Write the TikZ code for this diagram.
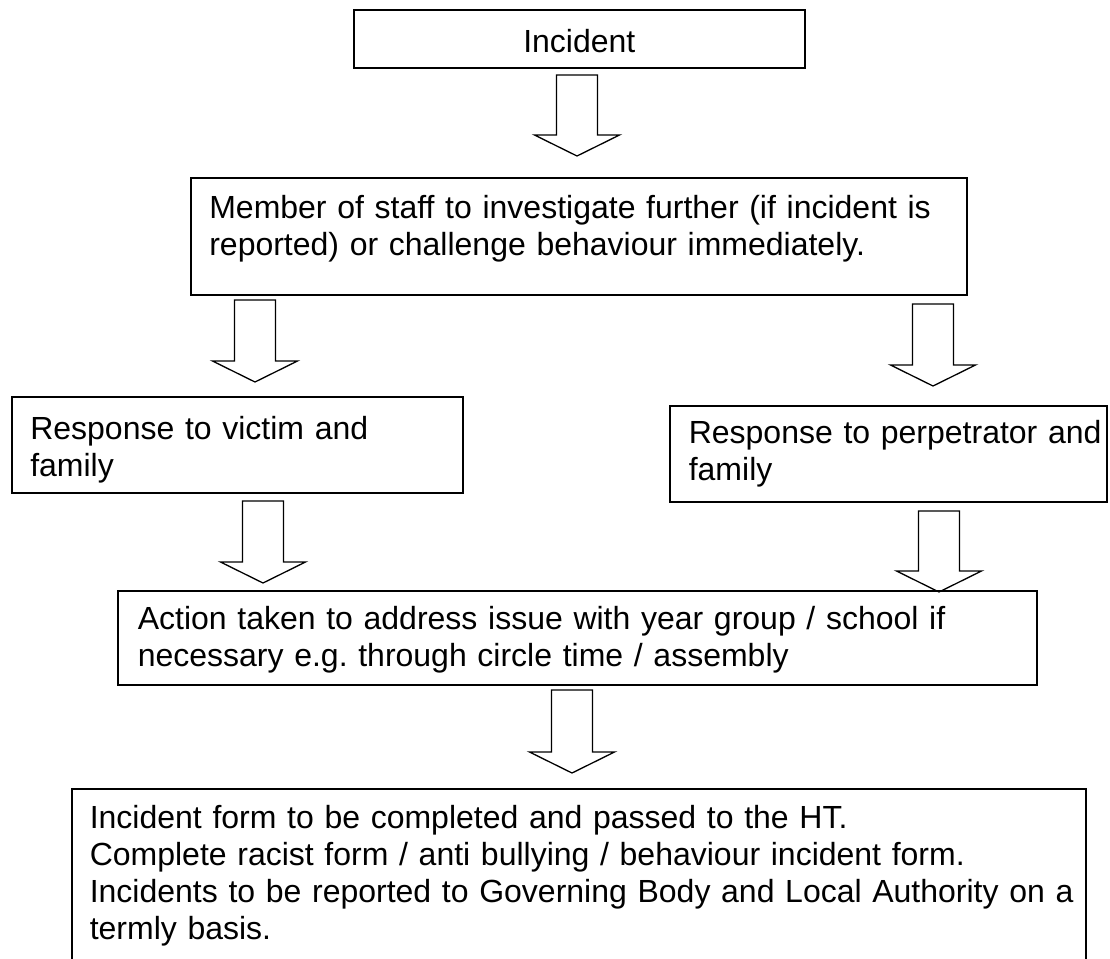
\documentclass[tikz,border=0pt]{standalone}
\usepackage{fontspec}
\setmainfont{Liberation Sans}
\usetikzlibrary{calc}
\newcommand{\bxfont}{\fontsize{32}{37}\selectfont\frenchspacing}

\tikzset{
  box/.style={draw, line width=1.6pt, anchor=north west, inner sep=0pt, align=left, font=\bxfont},
  pad/.style={execute at begin node={\raggedright\leftskip=#1\relax}},
  hollow/.style={draw, line width=1.3pt}
}

\begin{document}
\begin{tikzpicture}[x=1pt,y=-1pt]
  \clip (0,0) rectangle (1110,958);
  \fill[white] (0,0) rectangle (1110,958);

  \node[box, align=center, text width=451pt, text height=43pt, text depth=15pt] (incident) at (353,9) {Incident};
  \node[box, pad=18.5pt, text width=776pt, text height=41pt, text depth=76pt] (staff) at (190,177)
    {Member of staff to investigate further (if incident is\\reported) or challenge behaviour immediately.};
  \node[box, pad=18.5pt, text width=451pt, text height=43pt, text depth=53pt] (victim) at (11,396)
    {Response to victim and\\family};
  \node[box, pad=19pt, text width=437pt, text height=38pt, text depth=58pt] (perp) at (669,405)
    {Response to perpetrator and\\family};
  \node[box, pad=20pt, text width=919pt, text height=39pt, text depth=55pt] (action) at (117,590)
    {Action taken to address issue with year group / school if\\necessary e.g. through circle time / assembly};
  \node[box, pad=18pt, text width=1014pt, text height=40pt, text depth=200pt] (form) at (71,788)
    {Incident form to be completed and passed to the HT.\\
     Complete racist form / anti bullying / behaviour incident form.\\
     Incidents to be reported to Governing Body and Local Authority on a\\
     termly basis.};

  \coordinate (a1) at (577,75);  \coordinate (b1) at (577,156);
  \coordinate (a2) at (255,300); \coordinate (b2) at (255,382);
  \coordinate (a3) at (933,304); \coordinate (b3) at (933,386);
  \coordinate (a4) at (263,501); \coordinate (b4) at (263,583);
  \coordinate (a5) at (939,511); \coordinate (b5) at (939,592);
  \coordinate (a6) at (572,690); \coordinate (b6) at (572,773);

  \def\shaft{20.5}
  \def\head{42.5}
  \def\tip{21}
  \foreach \s/\e in {a1/b1, a2/b2, a3/b3, a4/b4, a5/b5, a6/b6}
    \draw[hollow] ($(\s)+(-\shaft,0)$) -- ($(\s)+(\shaft,0)$) -- ($(\e)+(\shaft,-\tip)$)
      -- ($(\e)+(\head,-\tip)$) -- (\e) -- ($(\e)+(-\head,-\tip)$) -- ($(\e)+(-\shaft,-\tip)$) -- cycle;
\end{tikzpicture}
\end{document}
